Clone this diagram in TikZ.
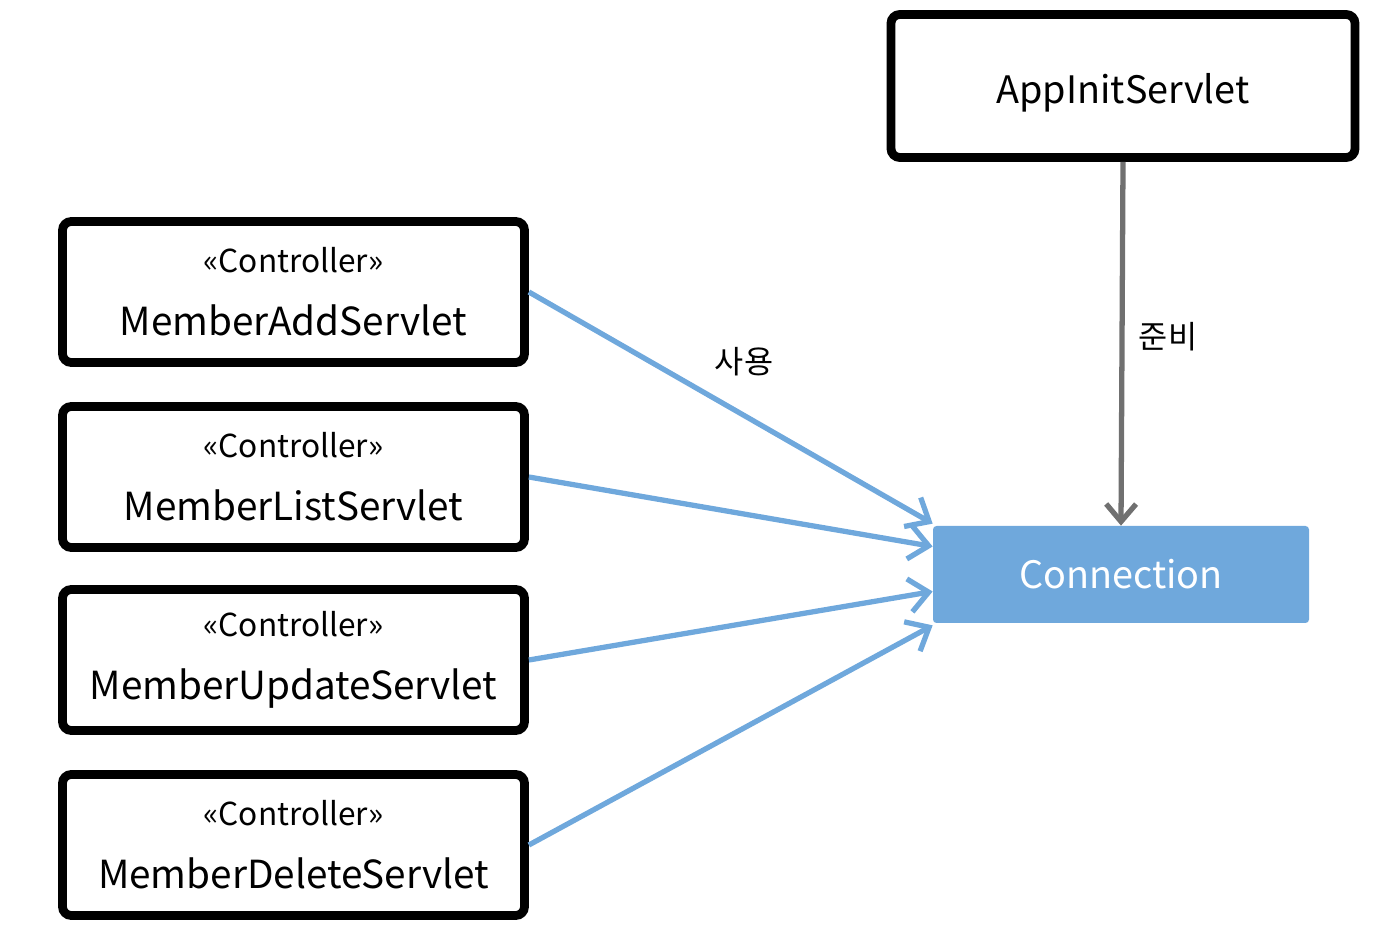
\documentclass[tikz,border=0pt]{standalone}
\usepackage{fontspec}
\setmainfont{Noto Sans CJK KR}
\usepackage{xcolor}
\usetikzlibrary{positioning, arrows.meta}
\definecolor{connblue}{HTML}{6FA8DC}
\definecolor{initgray}{HTML}{707070}

\begin{document}
\begin{tikzpicture}[
            servlet/.style={rectangle, draw=black, line width=5pt, rounded corners=5pt, fill=white, minimum width=9.24cm, minimum height=2.82cm, align=center, font=\fontsize{22}{27}\selectfont},
            resource/.style={rectangle, fill=connblue, rounded corners=2pt, minimum width=7.52cm, minimum height=1.94cm, text=white, font=\fontsize{21.5}{27}\selectfont},
            uses/.style={-{Straight Barb[length=11pt, width=19pt, line width=3pt]}, draw=connblue, line width=3pt},
            prepares/.style={-{Straight Barb[length=10pt, width=17pt, line width=3pt]}, draw=initgray, line width=3pt},
            stereo/.style={font=\fontsize{18}{22}\selectfont}
        ]

        \useasboundingbox (0,0) rectangle (27.88,-18.92);

        \node[servlet] (add) at (5.87,-5.84) {{\fontsize{18}{22}\selectfont «Controller»}\\[9pt] MemberAddServlet};
        \node[servlet] (list) at (5.87,-9.54) {{\fontsize{18}{22}\selectfont «Controller»}\\[9pt] MemberListServlet};
        \node[servlet] (update) at (5.87,-13.20) {{\fontsize{18}{22}\selectfont «Controller»}\\[9pt] MemberUpdateServlet};
        \node[servlet] (delete) at (5.87,-16.90) {{\fontsize{18}{22}\selectfont «Controller»}\\[9pt] MemberDeleteServlet};

        \node[servlet, minimum width=9.28cm, minimum height=2.86cm, font=\fontsize{21.5}{27}\selectfont] (init) at (22.46,-1.72) {\raisebox{-4pt}[\height][\depth]{AppInitServlet}};
        \node[resource] (conn) at (22.42,-11.49) {Connection};

        \draw[uses] (add.east) -- ([yshift=0.04cm]conn.north west);
        \draw[uses] (list.east) -- ([yshift=0.56cm]conn.west);
        \draw[uses] (update.east) -- ([yshift=-0.34cm]conn.west);
        \draw[uses] (delete.east) -- ([yshift=-0.04cm]conn.south west);

        \draw[prepares] (init.south) -- (conn.north);

        \node[stereo] (use) at (14.88,-7.24) {사용};
        \node[stereo] (prep) at (23.36,-6.74) {준비};

    \end{tikzpicture}
\end{document}
